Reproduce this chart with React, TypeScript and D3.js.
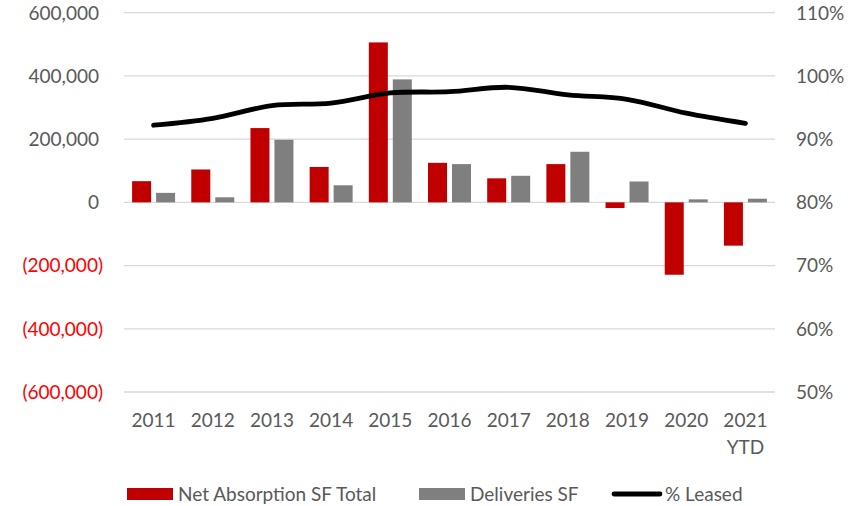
import React, { useEffect, useRef } from "react";
import * as d3 from "d3";

const years = ["2011", "2012", "2013", "2014", "2015", "2016", "2017", "2018", "2019", "2020", "2021 YTD"];
const netAbsorption = [67000, 104000, 235000, 112000, 506000, 125000, 76000, 121000, -18000, -229000, -137000];
const deliveries = [30000, 16000, 198000, 54000, 389000, 121000, 84000, 160000, 66000, 9500, 11500];
const leased = [92.2, 93.3, 95.3, 95.7, 97.3, 97.5, 98.2, 97.0, 96.3, 94.1, 92.5];
const leftTicks = [-600000, -400000, -200000, 0, 200000, 400000, 600000];
const rightTicks = [50, 60, 70, 80, 90, 100, 110];

const FONT = "Lato, 'Open Sans', sans-serif";
const FS = 19;

export default function App() {
  const svgRef = useRef<SVGSVGElement>(null);

  useEffect(() => {
    const w = 860;
    const h = 506;
    const svg = d3.select(svgRef.current).attr("width", w).attr("height", h);
    svg.selectAll("*").remove();

    // scales
    const x = d3.scaleBand().domain(years).range([124, 775]);
    const xs = d3
      .scaleBand()
      .domain(["net", "del"])
      .range([0, x.bandwidth()])
      .paddingInner(0.208)
      .paddingOuter(0.3375);
    const yL = d3.scaleLinear().domain([-600000, 600000]).range([392, 12.7]);
    const yR = d3.scaleLinear().domain([50, 110]).range([392, 12.7]);

    // gridlines
    svg
      .append("g")
      .selectAll("line")
      .data(leftTicks)
      .join("line")
      .attr("x1", 124)
      .attr("x2", 775)
      .attr("y1", (d) => yL(d))
      .attr("y2", (d) => yL(d))
      .attr("stroke", "#d9d9d9")
      .attr("stroke-width", 1.3);

    // left axis labels
    const fmt = d3.format(",");
    svg
      .append("g")
      .selectAll("text")
      .data(leftTicks)
      .join("text")
      .attr("x", (d) => (d < 0 ? 103 : 99))
      .attr("y", (d) => yL(d) + 6.8)
      .attr("text-anchor", "end")
      .attr("font-family", FONT)
      .attr("font-size", FS)
      .attr("fill", (d) => (d < 0 ? "#ff0000" : "#595959"))
      .text((d) => (d < 0 ? `(${fmt(-d)})` : fmt(d)));

    // right axis labels
    svg
      .append("g")
      .selectAll("text")
      .data(rightTicks)
      .join("text")
      .attr("x", 796)
      .attr("y", (d) => yR(d) + 6.8)
      .attr("font-family", FONT)
      .attr("font-size", FS)
      .attr("fill", "#595959")
      .text((d) => `${d}%`);

    // bars
    const bars = svg.append("g");
    bars
      .selectAll(".net")
      .data(netAbsorption)
      .join("rect")
      .attr("x", (d, i) => x(years[i])! + xs("net")!)
      .attr("width", xs.bandwidth())
      .attr("y", (d) => yL(Math.max(0, d)))
      .attr("height", (d) => Math.abs(yL(d) - yL(0)))
      .attr("fill", "#c00000");
    bars
      .selectAll(".del")
      .data(deliveries)
      .join("rect")
      .attr("x", (d, i) => x(years[i])! + xs("del")!)
      .attr("width", xs.bandwidth())
      .attr("y", (d) => yL(Math.max(0, d)))
      .attr("height", (d) => Math.abs(yL(d) - yL(0)))
      .attr("fill", "#7f7f7f");

    // % leased line
    const line = d3
      .line<number>()
      .x((d, i) => x(years[i])! + x.bandwidth() / 2)
      .y((d) => yR(d))
      .curve(d3.curveCardinal.tension(0));
    svg
      .append("path")
      .datum(leased)
      .attr("d", line)
      .attr("fill", "none")
      .attr("stroke", "#000")
      .attr("stroke-width", 4.8)
      .attr("stroke-linecap", "round");

    // x labels
    const xl = svg
      .append("g")
      .selectAll("text")
      .data(years)
      .join("text")
      .attr("x", (d) => x(d)! + x.bandwidth() / 2)
      .attr("y", 427)
      .attr("text-anchor", "middle")
      .attr("font-family", FONT)
      .attr("font-size", FS)
      .attr("fill", "#595959");
    xl.each(function (d) {
      const parts = d.split(" ");
      d3.select(this)
        .selectAll("tspan")
        .data(parts)
        .join("tspan")
        .attr("x", x(d)! + x.bandwidth() / 2)
        .attr("dy", (p, j) => (j === 0 ? 0 : 26.5))
        .text((p) => p);
    });

    // legend
    const lg = svg.append("g").attr("font-family", FONT).attr("font-size", FS).attr("fill", "#595959");
    lg.append("rect").attr("x", 127).attr("y", 488).attr("width", 46).attr("height", 12).attr("fill", "#c00000");
    lg.append("text").attr("x", 178).attr("y", 500.5).text("Net Absorption SF Total");
    lg.append("rect").attr("x", 419).attr("y", 488).attr("width", 46).attr("height", 12).attr("fill", "#7f7f7f");
    lg.append("text").attr("x", 470).attr("y", 500.5).text("Deliveries SF");
    lg.append("line")
      .attr("x1", 614)
      .attr("x2", 660)
      .attr("y1", 494)
      .attr("y2", 494)
      .attr("stroke", "#000")
      .attr("stroke-width", 4.8)
      .attr("stroke-linecap", "round");
    lg.append("text").attr("x", 665).attr("y", 500.5).text("% Leased");
  }, []);

  return (
    <div style={{ position: "absolute", left: 0, top: 0 }}>
      <svg ref={svgRef} style={{ display: "block", background: "#fff" }}></svg>
    </div>
  );
}
